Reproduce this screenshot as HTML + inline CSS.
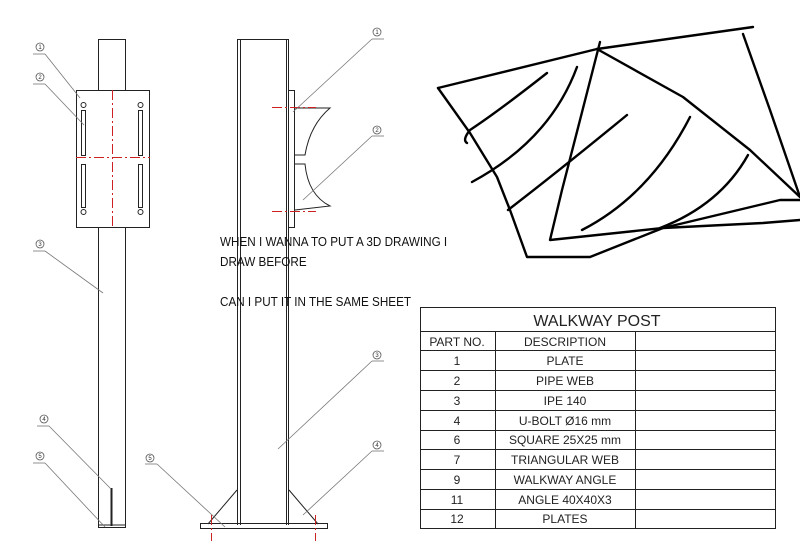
<!DOCTYPE html>
<html><head><meta charset="utf-8"><style>
html,body{margin:0;padding:0;background:#fff;}
svg{display:block;}
text{font-family:"Liberation Sans",sans-serif;}
</style></head><body>
<svg width="800" height="551" viewBox="0 0 800 551" xmlns="http://www.w3.org/2000/svg">
<g fill="none" stroke="#222" stroke-width="1">
<rect x="98.5" y="39.5" width="27" height="488"/>
<line x1="98" y1="525" x2="126" y2="525"/>
<rect x="76.5" y="90.5" width="73" height="137" fill="#fff"/>
<rect x="81.5" y="110.5" width="4" height="45"/>
<rect x="81.5" y="164.5" width="4" height="43"/>
<rect x="138.5" y="110.5" width="4" height="45"/>
<rect x="138.5" y="164.5" width="4" height="43"/>
<circle cx="83.5" cy="105" r="2.5"/>
<circle cx="83.5" cy="212" r="2.5"/>
<circle cx="140.5" cy="105" r="2.5"/>
<circle cx="140.5" cy="212" r="2.5"/>
<line x1="111.5" y1="488" x2="111.5" y2="526" stroke-width="2"/>
<line x1="237.5" y1="39" x2="237.5" y2="525"/>
<line x1="240.5" y1="39" x2="240.5" y2="525"/>
<line x1="286.5" y1="39" x2="286.5" y2="525"/>
<line x1="288.5" y1="39" x2="288.5" y2="525"/>
<line x1="237" y1="39.5" x2="289" y2="39.5"/>
<rect x="288.5" y="90.5" width="6" height="137"/>
<path d="M295 108 L330 108 Q310 125 305 155 L295 155"/>
<path d="M295 164 L305 164 Q308 195 330 206 L295 210"/>
<rect x="200.5" y="523.5" width="127" height="5"/>
<line x1="237" y1="490" x2="208" y2="524"/>
<line x1="289" y1="490" x2="318" y2="524"/>
</g>
<g stroke="#c22" stroke-width="1" stroke-dasharray="10,3,2,3" fill="none">
<line x1="112.5" y1="90" x2="112.5" y2="227"/>
<line x1="76" y1="157.5" x2="150" y2="157.5"/>
<line x1="272" y1="107.5" x2="316" y2="107.5"/>
<line x1="272" y1="211.5" x2="316" y2="211.5"/>
<line x1="211.5" y1="515" x2="211.5" y2="541"/>
<line x1="315.5" y1="515" x2="315.5" y2="541"/>
</g>
<g stroke="#777" stroke-width="0.8" fill="none">
<line x1="33" y1="54" x2="45" y2="54"/><line x1="45" y1="54" x2="80" y2="98"/>
<line x1="33" y1="84" x2="45" y2="84"/><line x1="45" y1="84" x2="84" y2="125"/>
<line x1="33" y1="251" x2="45" y2="251"/><line x1="45" y1="251" x2="103" y2="293"/>
<line x1="37" y1="426" x2="49" y2="426"/><line x1="49" y1="426" x2="111" y2="489"/>
<line x1="33" y1="463" x2="45" y2="463"/><line x1="45" y1="463" x2="105" y2="527"/>
<line x1="372" y1="39" x2="384" y2="39"/><line x1="372" y1="39" x2="293" y2="112"/>
<line x1="372" y1="136" x2="384" y2="136"/><line x1="372" y1="136" x2="303" y2="200"/>
<line x1="372" y1="361" x2="384" y2="361"/><line x1="372" y1="361" x2="278" y2="449"/>
<line x1="372" y1="451" x2="384" y2="451"/><line x1="372" y1="451" x2="303" y2="515"/>
<line x1="145" y1="464" x2="157" y2="464"/><line x1="157" y1="464" x2="225" y2="527"/>
</g>
<g stroke="#555" stroke-width="0.8" fill="#fff">
<circle cx="40" cy="47" r="4"/><circle cx="40" cy="77" r="4"/><circle cx="40" cy="244" r="4"/>
<circle cx="44" cy="419" r="4"/><circle cx="40" cy="456" r="4"/>
<circle cx="377" cy="32" r="4"/><circle cx="377" cy="130" r="4"/><circle cx="377" cy="355" r="4"/>
<circle cx="377" cy="445" r="4"/><circle cx="150" cy="458" r="4"/>
</g>
<g font-size="6" fill="#333" text-anchor="middle">
<text x="40" y="49">1</text><text x="40" y="79">2</text><text x="40" y="246">3</text>
<text x="44" y="421">4</text><text x="40" y="458">5</text>
<text x="377" y="34">1</text><text x="377" y="132">2</text><text x="377" y="357">3</text>
<text x="377" y="447">4</text><text x="150" y="460">5</text>
</g>
<g font-size="13" fill="#111">
<text transform="translate(220,246) scale(0.9,1)" x="0" y="0">WHEN I WANNA TO PUT A 3D DRAWING I</text>
<text transform="translate(220,266) scale(0.9,1)" x="0" y="0">DRAW  BEFORE</text>
<text transform="translate(220,306) scale(0.9,1)" x="0" y="0">CAN I PUT IT  IN THE SAME  SHEET</text>
</g>
<g stroke="#000" stroke-width="2.4" fill="none" stroke-linecap="round" stroke-linejoin="round">
<polyline points="438,88 597,49 753,27"/>
<polyline points="438,88 470,133 497,177 510,210 527,257 590,257 663,228 763,223 800,220"/>
<polyline points="600,42 580,120 562,190 550,240 663,228 780,200 800,200"/>
<polyline points="597,49 683,97 750,150 800,197"/>
<polyline points="743,34 770,110 800,197"/>
<path d="M547,73 Q500,110 470,130 Q462,140 467,143"/>
<path d="M577,67 Q550,140 472,182"/>
<path d="M627,115 Q560,170 508,210"/>
<path d="M690,117 Q650,195 582,230"/>
<path d="M748,155 Q720,205 660,228"/>
</g>
<g stroke="#222" stroke-width="1" fill="none">
<rect x="420.5" y="307.5" width="355" height="221"/>
<line x1="420" y1="331.5" x2="776" y2="331.5"/>
<line x1="420" y1="350.5" x2="776" y2="350.5"/>
<line x1="420" y1="370.5" x2="776" y2="370.5"/>
<line x1="420" y1="390.5" x2="776" y2="390.5"/>
<line x1="420" y1="410.5" x2="776" y2="410.5"/>
<line x1="420" y1="430.5" x2="776" y2="430.5"/>
<line x1="420" y1="449.5" x2="776" y2="449.5"/>
<line x1="420" y1="469.5" x2="776" y2="469.5"/>
<line x1="420" y1="489.5" x2="776" y2="489.5"/>
<line x1="420" y1="509.5" x2="776" y2="509.5"/>
<line x1="495.5" y1="331" x2="495.5" y2="529"/>
<line x1="635.5" y1="331" x2="635.5" y2="529"/>
</g>
<g fill="#222" text-anchor="middle" font-size="12">
<text x="597" y="326" font-size="16">WALKWAY POST</text>
<text x="457" y="346">PART NO.</text><text x="565" y="346">DESCRIPTION</text>
<text x="457" y="365">1</text><text x="565" y="365">PLATE</text>
<text x="457" y="385">2</text><text x="565" y="385">PIPE WEB</text>
<text x="457" y="405">3</text><text x="565" y="405">IPE 140</text>
<text x="457" y="425">4</text><text x="565" y="425">U-BOLT Ø16 mm</text>
<text x="457" y="444">6</text><text x="565" y="444">SQUARE 25X25 mm</text>
<text x="457" y="464">7</text><text x="565" y="464">TRIANGULAR WEB</text>
<text x="457" y="484">9</text><text x="565" y="484">WALKWAY ANGLE</text>
<text x="457" y="504">11</text><text x="565" y="504">ANGLE 40X40X3</text>
<text x="457" y="523">12</text><text x="565" y="523">PLATES</text>
</g>
</svg>
</body></html>
